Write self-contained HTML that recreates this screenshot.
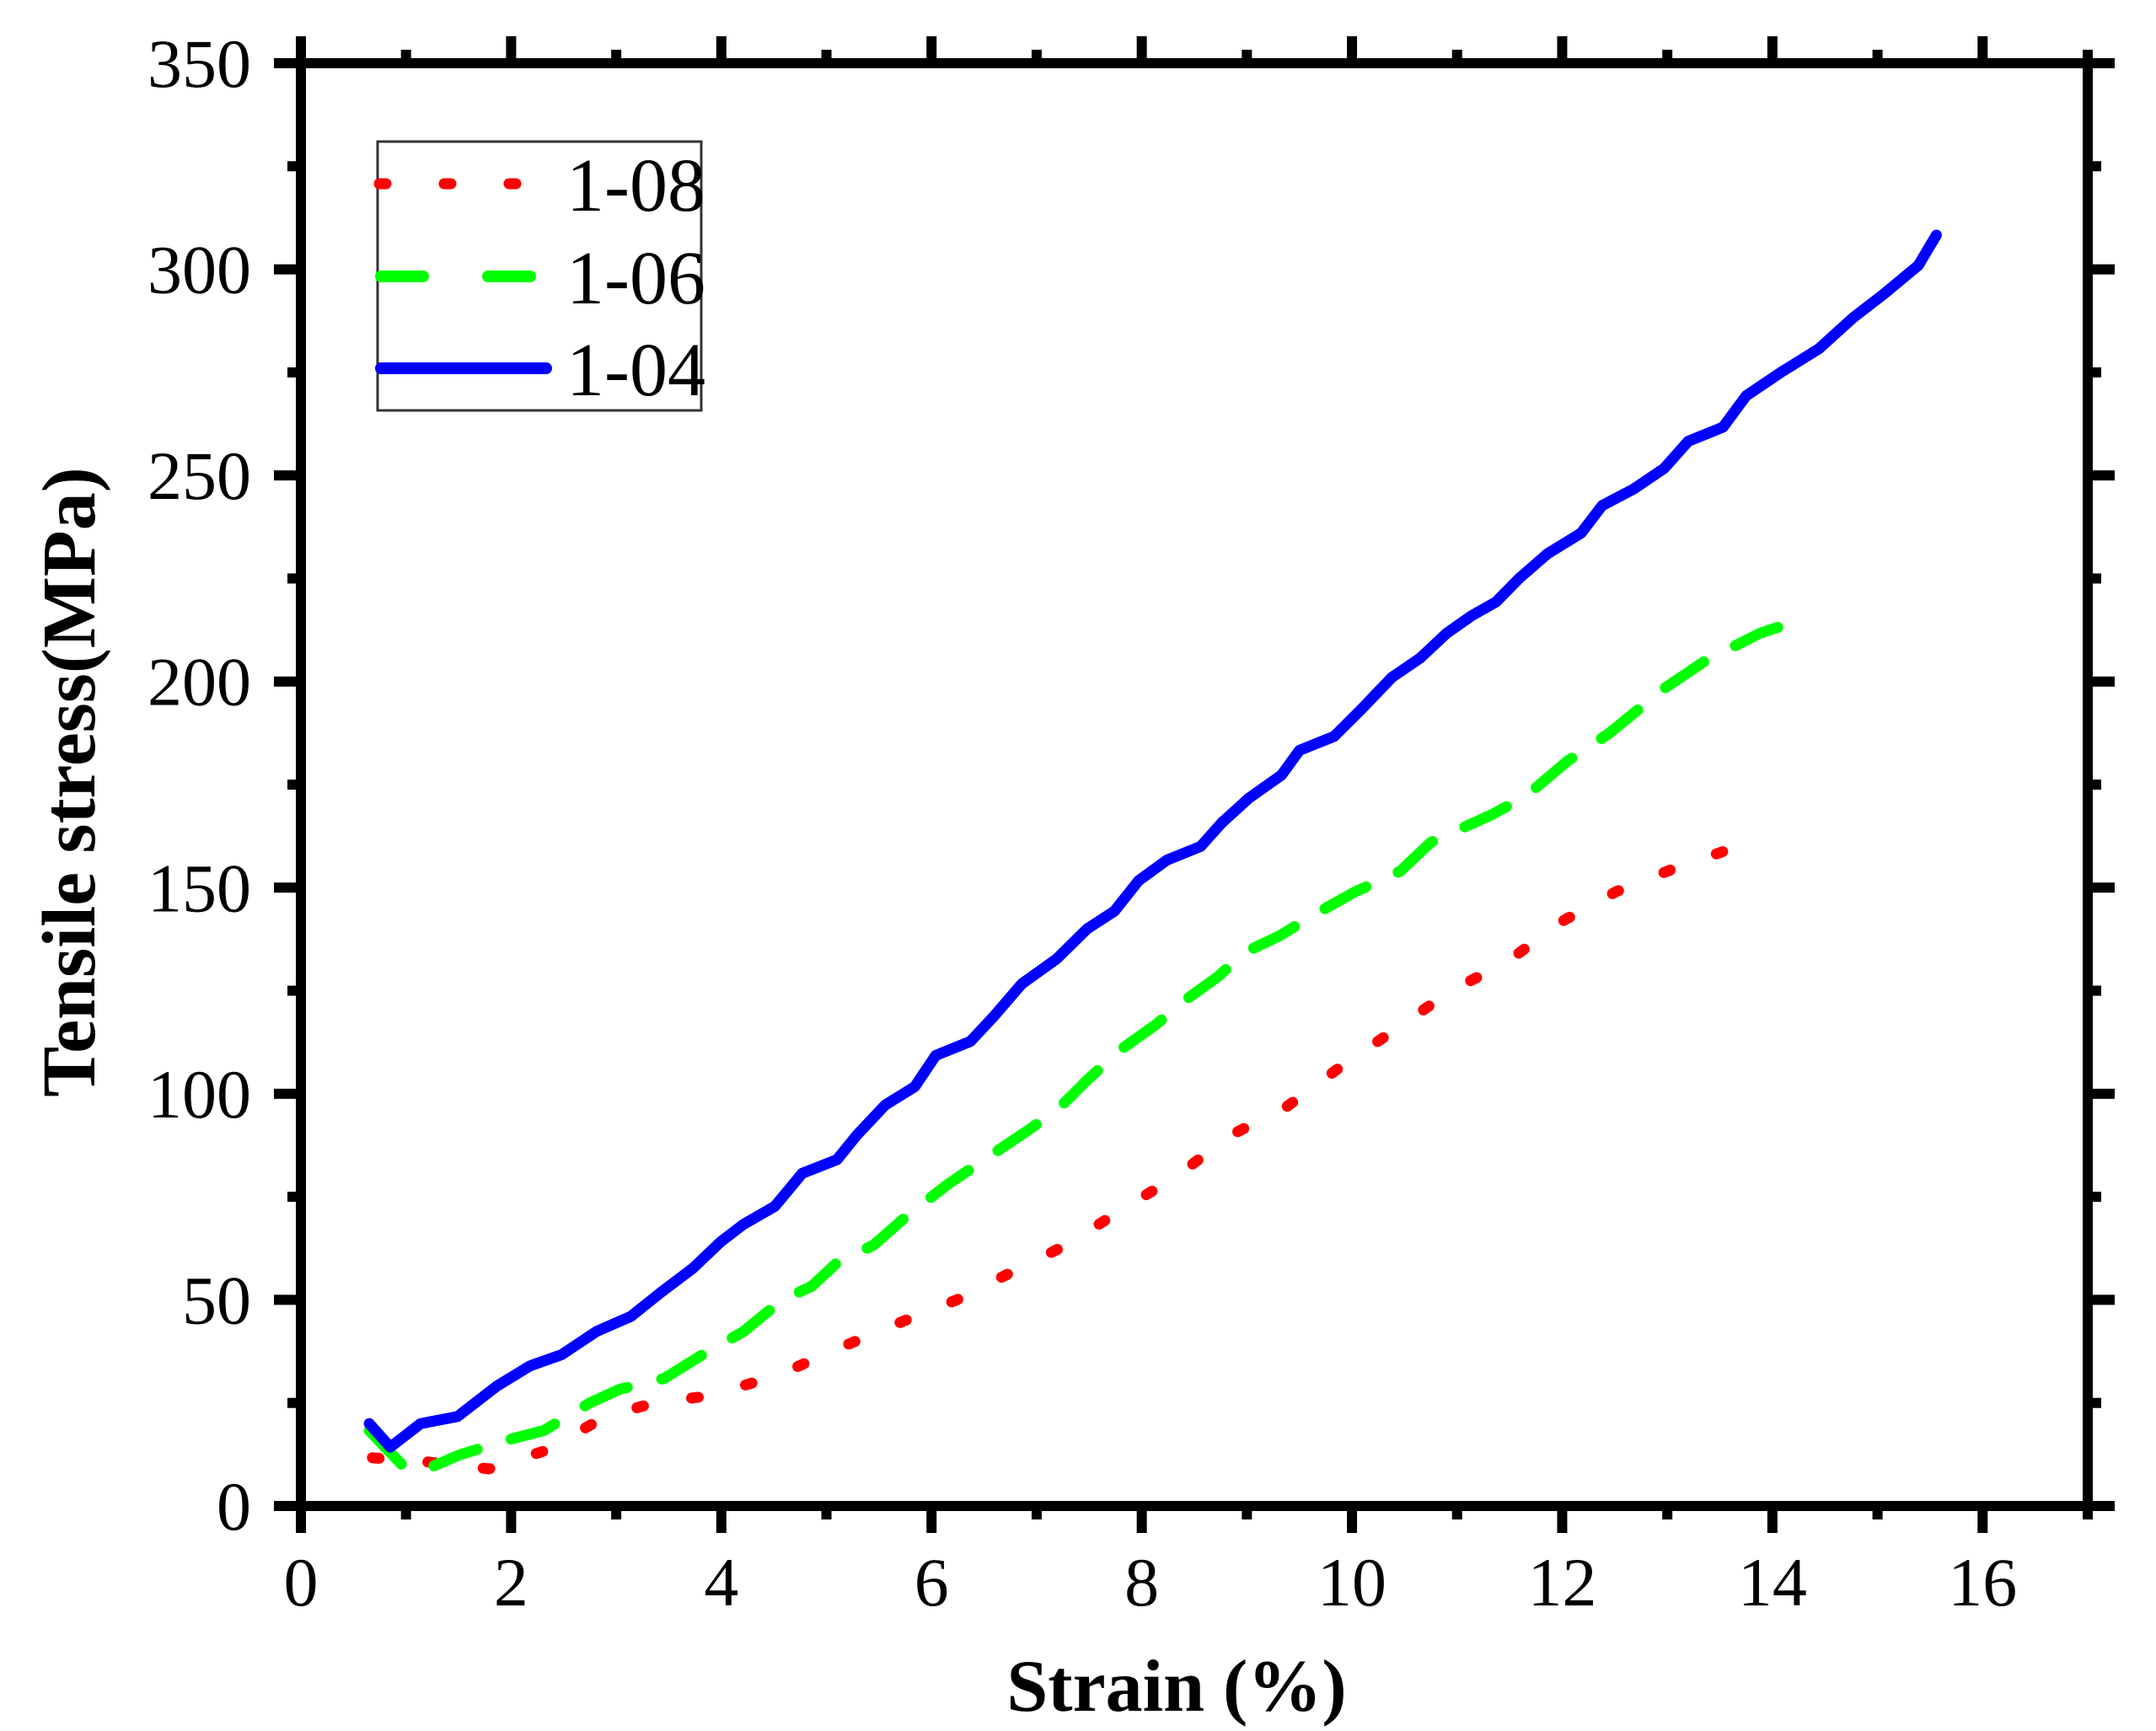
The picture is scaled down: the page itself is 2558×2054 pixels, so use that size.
<!DOCTYPE html>
<html><head><meta charset="utf-8"><style>
html,body{margin:0;padding:0;background:#fff;}
svg{display:block;}
text{font-family:"Liberation Serif",serif;}
</style></head><body>
<svg id="chart" width="2558" height="2054" viewBox="0 0 2558 2054" xmlns="http://www.w3.org/2000/svg">
<g id="axes"></g>
<g id="series"></g>
<g id="legend">
<rect x="448" y="168" width="384" height="319" fill="#fff" stroke="#333" stroke-width="3"/>
<line x1="450" y1="218" x2="620" y2="218" stroke="#f00" stroke-width="13" stroke-linecap="round" stroke-dasharray="8 69"/>
<text x="672" y="250" font-size="90">1-08</text>
<line x1="452" y1="328" x2="630" y2="328" stroke="#0f0" stroke-width="14" stroke-linecap="round" stroke-dasharray="50 77"/>
<text x="672" y="360" font-size="90">1-06</text>
<line x1="452" y1="437" x2="648" y2="437" stroke="#00f" stroke-width="14" stroke-linecap="round"/>
<text x="672" y="469" font-size="90">1-04</text>
</g>
<text x="1396" y="2030" font-size="88" font-weight="bold" text-anchor="middle">Strain (%)</text>
<text transform="translate(112,928) rotate(-90)" font-size="90" font-weight="bold" text-anchor="middle">Tensile stress(MPa)</text>
</svg>
<script>
const xTicks = [0,2,4,6,8,10,12,14,16];
const yTicks = [0,50,100,150,200,250,300,350];
const s108x = [0.68,1.2,1.79,2.31,2.9,3.36,3.88,4.54,5.12,5.65,6.24,6.76,7.28,7.8,8.33,8.85,9.37,9.9,10.42,10.94,11.46,11.99,12.51,13.03,13.59];
const s108y = [11.7,10.7,9,13.3,21.7,25,26.7,31.7,38.3,44,50,56.7,63.3,71.7,80,90,96.7,106.7,115.7,125,131.7,141.7,149,154.3,159.3];
const s106x = [0.65,1.0,1.2,1.5,1.92,2.31,2.75,3.03,3.46,3.82,4.21,4.58,4.86,5.1,5.45,5.78,6.17,6.56,6.95,7.22,7.48,7.8,8.13,8.39,8.72,8.98,9.31,9.63,10.03,10.46,10.75,11.33,11.66,12.05,12.44,12.97,13.36,13.88,14.27];
const s106y = [18.3,9,9,12.3,15.7,18.3,25,28.3,31,36.7,42.3,50,53.3,59,63.3,70.7,78.3,85,91.7,96.7,103.3,110.7,116.7,122.3,128.3,134.3,138.3,143.3,149,154,161,167.7,172.3,180.7,187.3,198.3,205,211.7,215];
const s104x = [0.65,0.85,1.14,1.49,1.86,2.18,2.48,2.81,3.14,3.42,3.73,3.99,4.21,4.51,4.77,5.1,5.29,5.56,5.84,6.04,6.37,6.6,6.86,7.19,7.48,7.74,7.97,8.24,8.56,8.76,9.02,9.33,9.5,9.83,10.09,10.38,10.65,10.9,11.14,11.37,11.59,11.86,12.18,12.38,12.68,12.97,13.2,13.53,13.75,14.08,14.44,14.77,15.06,15.39,15.56];
const s104y = [20,14.3,20,21.7,29,34,36.7,42.3,46,51.7,57.7,64,68.3,72.7,80.7,84,90,97.3,101.7,109.3,112.7,119,126.7,132.7,140,144.3,151.7,156.7,160,165.7,171.7,177.3,183.3,186.7,193.3,201,205.7,211.7,216,219.3,225,231,236,242.7,246.7,251.7,258.3,261.7,269.3,275,280.7,288.3,294,301,308.3];

const NS='http://www.w3.org/2000/svg';
const X0=357, X1=2477, XMAX=17, Y0=1787, Y1=75, YMAX=350;
function sx(v){return X0+(X1-X0)*v/XMAX;}
function sy(v){return Y0-(Y0-Y1)*v/YMAX;}
function mk(tag,attrs,parent){const e=document.createElementNS(NS,tag);for(const k in attrs)e.setAttribute(k,attrs[k]);parent.appendChild(e);return e;}
const axes=document.getElementById('axes');
const ser=document.getElementById('series');
const frame=mk('rect',{x:X0,y:Y1,width:X1-X0,height:Y0-Y1,fill:'none',stroke:'#000','stroke-width':12},axes);


for(let v=0;v<=XMAX;v++){
  const major=v%2===0, L=major?32:16, x=sx(v);
  const t1=mk('line',{x1:x,y1:Y0,x2:x,y2:Y0+L,stroke:'#000','stroke-width':12},axes);
  
  
  const t2=mk('line',{x1:x,y1:Y1,x2:x,y2:Y1-L,stroke:'#000','stroke-width':12},axes);
  
  
}
xTicks.forEach(v=>{
  const t=mk('text',{x:sx(v),y:1905,'font-size':82,'text-anchor':'middle'},axes);
  t.textContent=v;
  
  
});
for(let v=0;v<=YMAX;v+=25){
  const major=v%50===0, L=major?32:16, y=sy(v);
  const t1=mk('line',{x1:X0,y1:y,x2:X0-L,y2:y,stroke:'#000','stroke-width':12},axes);
  
  
  const t2=mk('line',{x1:X1,y1:y,x2:X1+L,y2:y,stroke:'#000','stroke-width':12},axes);
  
  
}
yTicks.forEach(v=>{
  const t=mk('text',{x:298,y:sy(v)+28,'font-size':82,'text-anchor':'end'},axes);
  t.textContent=v;
  
  
});
function line(xs,ys,color,dash,name){
  const d=xs.map((x,i)=>(i?'L':'M')+sx(x).toFixed(1)+' '+sy(ys[i]).toFixed(1)).join(' ');
  const p=mk('path',{d:d,fill:'none',stroke:color,'stroke-width':13,'stroke-linecap':'round','stroke-linejoin':'round'},ser);
  if(dash)p.setAttribute('stroke-dasharray',dash);
  
  
}
line(s108x,s108y,'#f00','8 58','series-1-08');
line(s106x,s106y,'#0f0','55 42','series-1-06');
line(s104x,s104y,'#00f',null,'series-1-04');
</script>
</body></html>
